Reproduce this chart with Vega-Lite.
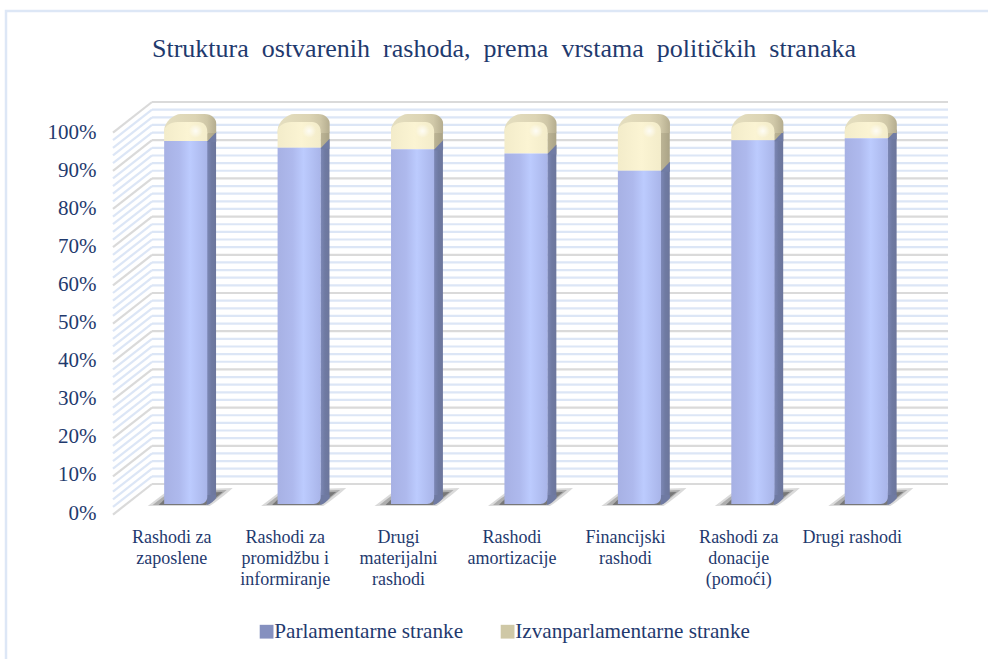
{"$schema":"https://vega.github.io/schema/vega-lite/v6.json","width":988,"height":659,"padding":0,"autosize":{"type":"none"},"background":"#ffffff","view":{"stroke":null},
"title":{"text":"Struktura\u00a0\u00a0ostvarenih\u00a0\u00a0rashoda,\u00a0\u00a0prema\u00a0\u00a0vrstama\u00a0\u00a0političkih\u00a0\u00a0stranaka","font":"Liberation Serif","fontSize":26,"fontWeight":"normal","color":"#1f3a6e","anchor":"middle","dx":10,"offset":-62,"frame":"group"},
"config":{"font":"Liberation Serif"},
"datasets":{
"bars":[
{"cat":"Rashodi za|zaposlene","series":"Parlamentarne stranke","value":95.8},{"cat":"Rashodi za|zaposlene","series":"Izvanparlamentarne stranke","value":4.2},
{"cat":"Rashodi za|promidžbu i|informiranje","series":"Parlamentarne stranke","value":94.0},{"cat":"Rashodi za|promidžbu i|informiranje","series":"Izvanparlamentarne stranke","value":6.0},
{"cat":"Drugi|materijalni|rashodi","series":"Parlamentarne stranke","value":93.6},{"cat":"Drugi|materijalni|rashodi","series":"Izvanparlamentarne stranke","value":6.4},
{"cat":"Rashodi|amortizacije","series":"Parlamentarne stranke","value":92.5},{"cat":"Rashodi|amortizacije","series":"Izvanparlamentarne stranke","value":7.5},
{"cat":"Financijski|rashodi","series":"Parlamentarne stranke","value":87.9},{"cat":"Financijski|rashodi","series":"Izvanparlamentarne stranke","value":12.1},
{"cat":"Rashodi za|donacije|(pomoći)","series":"Parlamentarne stranke","value":96.0},{"cat":"Rashodi za|donacije|(pomoći)","series":"Izvanparlamentarne stranke","value":4.0},
{"cat":"Drugi rashodi","series":"Parlamentarne stranke","value":96.5},{"cat":"Drugi rashodi","series":"Izvanparlamentarne stranke","value":3.5}],
"grid":[{"p":0,"front":-8,"major":1},{"p":2,"front":-6,"major":0},{"p":4,"front":-4,"major":0},{"p":6,"front":-2,"major":0},{"p":8,"front":0,"major":0},{"p":10,"front":2,"major":1},{"p":12,"front":4,"major":0},{"p":14,"front":6,"major":0},{"p":16,"front":8,"major":0},{"p":18,"front":10,"major":0},{"p":20,"front":12,"major":1},{"p":22,"front":14,"major":0},{"p":24,"front":16,"major":0},{"p":26,"front":18,"major":0},{"p":28,"front":20,"major":0},{"p":30,"front":22,"major":1},{"p":32,"front":24,"major":0},{"p":34,"front":26,"major":0},{"p":36,"front":28,"major":0},{"p":38,"front":30,"major":0},{"p":40,"front":32,"major":1},{"p":42,"front":34,"major":0},{"p":44,"front":36,"major":0},{"p":46,"front":38,"major":0},{"p":48,"front":40,"major":0},{"p":50,"front":42,"major":1},{"p":52,"front":44,"major":0},{"p":54,"front":46,"major":0},{"p":56,"front":48,"major":0},{"p":58,"front":50,"major":0},{"p":60,"front":52,"major":1},{"p":62,"front":54,"major":0},{"p":64,"front":56,"major":0},{"p":66,"front":58,"major":0},{"p":68,"front":60,"major":0},{"p":70,"front":62,"major":1},{"p":72,"front":64,"major":0},{"p":74,"front":66,"major":0},{"p":76,"front":68,"major":0},{"p":78,"front":70,"major":0},{"p":80,"front":72,"major":1},{"p":82,"front":74,"major":0},{"p":84,"front":76,"major":0},{"p":86,"front":78,"major":0},{"p":88,"front":80,"major":0},{"p":90,"front":82,"major":1},{"p":92,"front":84,"major":0},{"p":94,"front":86,"major":0},{"p":96,"front":88,"major":0},{"p":98,"front":90,"major":0},{"p":100,"front":92,"major":1}]
},
"resolve":{"scale":{"x":"independent","y":"independent"}},
"layer":[
{"data":{"values":[{"a":0,"b":1}]},"mark":{"type":"rect","fillOpacity":0,"stroke":"#dde7f6","strokeWidth":2.5},
"encoding":{"x":{"field":"a","type":"quantitative","axis":null,"scale":{"domain":[0,1],"range":[6,1010]}},"x2":{"field":"b"},"y":{"field":"a","type":"quantitative","axis":null,"scale":{"domain":[0,1],"range":[11,690]}},"y2":{"field":"b"}}},
{"data":{"name":"bars"},"mark":{"type":"bar","opacity":0},
"encoding":{"x":{"field":"cat","type":"nominal","sort":null,"scale":{"type":"band","range":[115,909]},"axis":{"orient":"bottom","title":null,"domain":false,"ticks":false,"labelAngle":0,"labelFont":"Liberation Serif","labelFontSize":18,"labelColor":"#1f3a6e","labelLineHeight":21.3,"labelLimit":0,"labelOverlap":false,"labelBaseline":"top","labelExpr":"split(datum.label,'|')","offset":-131,"labelPadding":0}},
"y":{"field":"value","type":"quantitative","stack":"zero","scale":{"domain":[0,100],"nice":false,"range":[513,132]},"axis":{"orient":"left","title":null,"domain":false,"ticks":false,"grid":false,"values":[0,10,20,30,40,50,60,70,80,90,100],"labelFont":"Liberation Serif","labelFontSize":21,"labelColor":"#1f3a6e","labelExpr":"datum.value+'%'","offset":-96,"labelPadding":0}}}},
{"data":{"name":"grid"},"transform":[{"filter":"datum.major==0"}],"mark":{"type":"rule","stroke":"#dce6f6","strokeWidth":2.2},"encoding":{"x":{"datum":0,"type":"quantitative","axis":null,"scale":{"domain":[0,1],"range":[113,152]}},"x2":{"datum":1},"y":{"field":"front","type":"quantitative","axis":null,"scale":{"domain":[0,100],"nice":false,"zero":false,"range":[484,102]}},"y2":{"field":"p"}}},
{"data":{"name":"grid"},"transform":[{"filter":"datum.major==1"}],"mark":{"type":"rule","stroke":"#dadada","strokeWidth":2.2},"encoding":{"x":{"datum":0,"type":"quantitative","axis":null,"scale":{"domain":[0,1],"range":[113,152]}},"x2":{"datum":1},"y":{"field":"front","type":"quantitative","axis":null,"scale":{"domain":[0,100],"nice":false,"zero":false,"range":[484,102]}},"y2":{"field":"p"}}},
{"data":{"name":"grid"},"transform":[{"filter":"datum.major==0"}],"mark":{"type":"rule","stroke":"#dce6f6","strokeWidth":2.2},"encoding":{"x":{"datum":0,"type":"quantitative","axis":null,"scale":{"domain":[0,1],"range":[152,948]}},"x2":{"datum":1},"y":{"field":"p","type":"quantitative","axis":null,"scale":{"domain":[0,100],"nice":false,"range":[484,102]}}}},
{"data":{"name":"grid"},"transform":[{"filter":"datum.major==1"}],"mark":{"type":"rule","stroke":"#dadada","strokeWidth":2.2},"encoding":{"x":{"datum":0,"type":"quantitative","axis":null,"scale":{"domain":[0,1],"range":[152,948]}},"x2":{"datum":1},"y":{"field":"p","type":"quantitative","axis":null,"scale":{"domain":[0,100],"nice":false,"range":[484,102]}}}},
{"data":{"name":"bars"},"transform":[{"filter":"datum.series=='Parlamentarne stranke'"}],"mark":{"type":"point","filled":true,"size":4,"opacity":0.2,"fill":"#444444","shape":"M-38,2 C-31,-3 -24,-9 -17,-14 L47,-16 C38,-8 30,-2 24,2 Z"},
"encoding":{"x":{"field":"cat","type":"nominal","sort":null,"axis":null,"scale":{"type":"band","range":[129,923],"paddingInner":0.62,"paddingOuter":0.31}},"y":{"datum":0,"type":"quantitative","axis":null,"scale":{"domain":[0,100],"nice":false,"range":[504,125]}}}},
{"data":{"name":"bars"},"transform":[{"filter":"datum.series=='Parlamentarne stranke'"}],"mark":{"type":"point","filled":true,"size":4,"opacity":0.3,"fill":"#444444","shape":"M-33,1 C-27,-4 -22,-8 -15,-12 L41,-14 C34,-8 28,-3 22,1 Z"},
"encoding":{"x":{"field":"cat","type":"nominal","sort":null,"axis":null,"scale":{"type":"band","range":[129,923],"paddingInner":0.62,"paddingOuter":0.31}},"y":{"datum":0,"type":"quantitative","axis":null,"scale":{"domain":[0,100],"nice":false,"range":[504,125]}}}},
{"data":{"name":"bars"},"transform":[{"filter":"datum.series=='Parlamentarne stranke'"}],"mark":{"type":"point","filled":true,"size":4,"opacity":0.5,"fill":"#444444","shape":"M-27,1 C-23,-3 -20,-6 -14,-10 L37,-12 C32,-8 26,-3 20,1 Z"},
"encoding":{"x":{"field":"cat","type":"nominal","sort":null,"axis":null,"scale":{"type":"band","range":[129,923],"paddingInner":0.62,"paddingOuter":0.31}},"y":{"datum":0,"type":"quantitative","axis":null,"scale":{"domain":[0,100],"nice":false,"range":[504,125]}}}},
{"data":{"name":"bars"},"transform":[{"filter":"datum.series=='Parlamentarne stranke'"}],"mark":{"type":"bar","fill":{"gradient":"linear","x1":0,"y1":0,"x2":1,"y2":0,"stops":[{"offset":0,"color":"#bdb596"},{"offset":1,"color":"#aaa386"}]}},
"encoding":{"x":{"field":"cat","type":"nominal","sort":null,"axis":null,"scale":{"type":"band","range":[154.8,948.8],"paddingInner":0.92,"paddingOuter":0.46}},"y":{"field":"value","type":"quantitative","stack":null,"axis":null,"scale":{"domain":[0,100],"nice":false,"range":[504,125]}},"y2":{"datum":98}}},
{"data":{"name":"bars"},"transform":[{"filter":"datum.series=='Parlamentarne stranke'"}],"mark":{"type":"bar","fill":{"gradient":"linear","x1":0,"y1":0,"x2":1,"y2":0,"stops":[{"offset":0,"color":"#7d88b6"},{"offset":0.5,"color":"#6f7aa2"},{"offset":1,"color":"#6c769c"}]}},
"encoding":{"x":{"field":"cat","type":"nominal","sort":null,"axis":null,"scale":{"type":"band","range":[154.8,948.8],"paddingInner":0.92,"paddingOuter":0.46}},"y":{"field":"value","type":"quantitative","stack":null,"axis":null,"scale":{"domain":[0,100],"nice":false,"range":[504,125]}},"y2":{"datum":2}}},
{"data":{"name":"bars"},"transform":[{"filter":"datum.series=='Parlamentarne stranke'"}],"mark":{"type":"point","filled":true,"size":4,"opacity":1,"fill":"#717ca4","shape":"M21,1 L30.5,-9 L30.5,1 L21,1 Z"},
"encoding":{"x":{"field":"cat","type":"nominal","sort":null,"axis":null,"scale":{"type":"band","range":[129,923],"paddingInner":0.62,"paddingOuter":0.31}},"y":{"field":"value","type":"quantitative","stack":null,"axis":null,"scale":{"domain":[0,100],"nice":false,"range":[504,125]}}}},
{"data":{"name":"bars"},"transform":[{"filter":"datum.series=='Parlamentarne stranke'"}],"mark":{"type":"point","filled":true,"size":4,"opacity":1,"fill":"#6f7aa2","shape":"M21,1 C25,0 28,-3 30.5,-6 L30.5,-9 L21,-9 Z"},
"encoding":{"x":{"field":"cat","type":"nominal","sort":null,"axis":null,"scale":{"type":"band","range":[129,923],"paddingInner":0.62,"paddingOuter":0.31}},"y":{"datum":0,"type":"quantitative","axis":null,"scale":{"domain":[0,100],"nice":false,"range":[504,125]}}}},
{"data":{"name":"bars"},"transform":[{"filter":"datum.series=='Parlamentarne stranke'"}],"mark":{"type":"point","filled":true,"size":4,"opacity":1,"shape":"M-21.5,5 C-21.5,-3 -12,-11 -5,-11 L19,-11 C26,-11 30.5,-6 30.5,-2 L30.5,8 L-21.5,8 Z","fill":{"gradient":"linear","x1":0,"y1":0,"x2":1,"y2":0,"stops":[{"offset":0,"color":"#e5dfc0"},{"offset":0.6,"color":"#dcd4b4"},{"offset":0.82,"color":"#cfc7a7"},{"offset":1,"color":"#b5ad8f"}]}},
"encoding":{"x":{"field":"cat","type":"nominal","sort":null,"axis":null,"scale":{"type":"band","range":[129,923],"paddingInner":0.62,"paddingOuter":0.31}},"y":{"datum":100,"type":"quantitative","axis":null,"scale":{"domain":[0,100],"nice":false,"range":[504,125]}}}},
{"data":{"name":"bars"},"transform":[{"filter":"datum.series=='Parlamentarne stranke'"}],"mark":{"type":"bar","fill":{"gradient":"linear","x1":0,"y1":0,"x2":1,"y2":0,"stops":[{"offset":0,"color":"#f3ecca"},{"offset":0.55,"color":"#fbf4d3"},{"offset":1,"color":"#f3ecca"}]}},
"encoding":{"x":{"field":"cat","type":"nominal","sort":null,"axis":null,"scale":{"type":"band","range":[129,923],"paddingInner":0.62,"paddingOuter":0.31}},"y":{"field":"value","type":"quantitative","stack":null,"axis":null,"scale":{"domain":[0,100],"nice":false,"range":[504,125]}},"y2":{"datum":98}}},
{"data":{"name":"bars"},"transform":[{"filter":"datum.series=='Parlamentarne stranke'"}],"mark":{"type":"point","filled":true,"size":4,"opacity":1,"shape":"M-21.5,6 C-21.5,1 -15,-3 -8,-3 L13,-3 C18,-3 21.5,1 21.5,6 L21.5,9 L-21.5,9 Z","fill":{"gradient":"linear","x1":0,"y1":0,"x2":1,"y2":0,"stops":[{"offset":0,"color":"#f3ecca"},{"offset":0.55,"color":"#fbf4d3"},{"offset":1,"color":"#f3ecca"}]}},
"encoding":{"x":{"field":"cat","type":"nominal","sort":null,"axis":null,"scale":{"type":"band","range":[129,923],"paddingInner":0.62,"paddingOuter":0.31}},"y":{"datum":100,"type":"quantitative","axis":null,"scale":{"domain":[0,100],"nice":false,"range":[504,125]}}}},
{"data":{"name":"bars"},"transform":[{"filter":"datum.series=='Parlamentarne stranke'"}],"mark":{"type":"point","filled":true,"size":4,"opacity":0.8,"shape":"M3,-1 L17,-1 L17,13 L3,13 Z","fill":{"gradient":"radial","x1":0.5,"y1":0.5,"r1":0,"x2":0.5,"y2":0.5,"r2":0.5,"stops":[{"offset":0,"color":"#ffffff"},{"offset":1,"color":"#ffffff00"}]}},
"encoding":{"x":{"field":"cat","type":"nominal","sort":null,"axis":null,"scale":{"type":"band","range":[129,923],"paddingInner":0.62,"paddingOuter":0.31}},"y":{"datum":100,"type":"quantitative","axis":null,"scale":{"domain":[0,100],"nice":false,"range":[504,125]}}}},
{"data":{"name":"bars"},"transform":[{"filter":"datum.series=='Parlamentarne stranke'"}],"mark":{"type":"bar","cornerRadiusBottomRight":7,"fill":{"gradient":"linear","x1":0,"y1":0,"x2":1,"y2":0,"stops":[{"offset":0,"color":"#a7b1e4"},{"offset":0.35,"color":"#aeb9ed"},{"offset":0.6,"color":"#bccbfe"},{"offset":1,"color":"#a9b5e9"}]}},
"encoding":{"x":{"field":"cat","type":"nominal","sort":null,"axis":null,"scale":{"type":"band","range":[129,923],"paddingInner":0.62,"paddingOuter":0.31}},"y":{"field":"value","type":"quantitative","stack":null,"axis":null,"scale":{"domain":[0,100],"nice":false,"range":[504,125]}}}},
{"data":{"name":"bars"},"mark":{"type":"point","filled":true,"size":0,"opacity":0},
"encoding":{"x":{"field":"cat","type":"nominal","sort":null,"axis":null,"scale":{"type":"band","range":[129,923]}},"y":{"field":"value","type":"quantitative","stack":null,"axis":null,"scale":{"domain":[0,100],"nice":false,"range":[504,125]}},
"color":{"field":"series","type":"nominal","scale":{"domain":["Parlamentarne stranke","Izvanparlamentarne stranke"],"range":["#8590bf","#cfc8a6"]},"legend":{"title":null,"orient":"none","legendX":256,"legendY":621,"direction":"horizontal","columns":2,"columnPadding":33,"symbolType":"square","symbolSize":190,"symbolOpacity":1,"symbolStrokeWidth":0,"labelOffset":-3,"labelFont":"Liberation Serif","labelFontSize":21.2,"labelColor":"#1f3a6e","labelLimit":0}}}}
]}
